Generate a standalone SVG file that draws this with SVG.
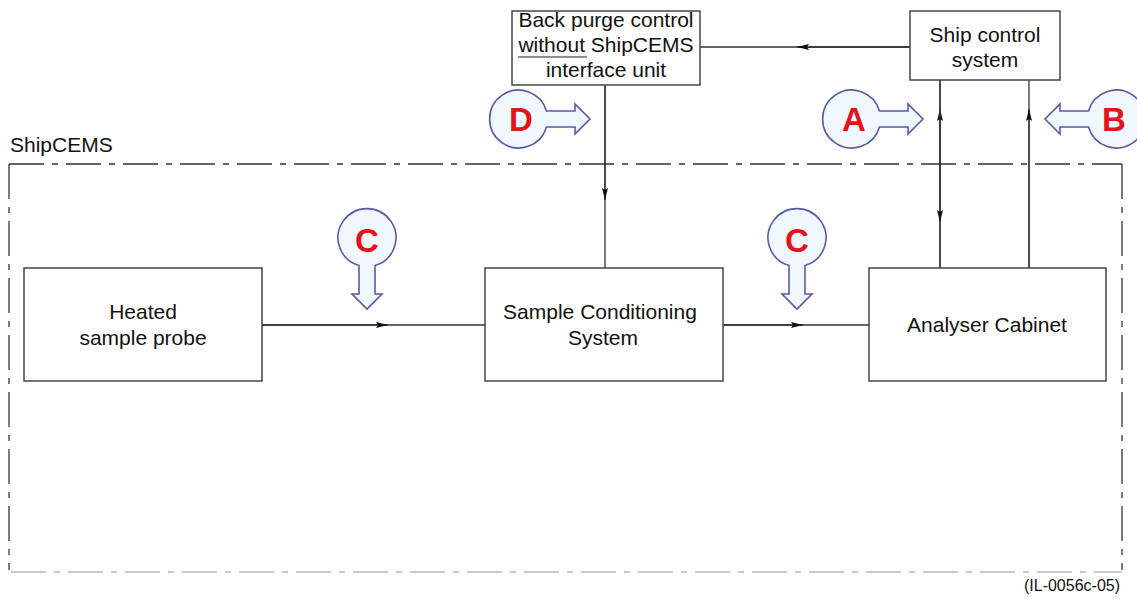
<svg xmlns="http://www.w3.org/2000/svg" xmlns:xlink="http://www.w3.org/1999/xlink" width="1137" height="599" viewBox="0 0 1137 599">
<style>
.box{fill:#fff;stroke:#444;stroke-width:1.5}
.t{font-family:"Liberation Sans",Arial,sans-serif;font-size:21px;fill:#111;text-anchor:middle}
.ln{stroke:#333;stroke-width:1.3;fill:none}
.dd{stroke:#333;stroke-width:1.3;fill:none;stroke-dasharray:35 8 6 8}
.co{fill:#f0f7fd;stroke:#5a5aa6;stroke-width:1.6}
.L{font-family:"Liberation Sans",Arial,sans-serif;font-size:33px;font-weight:bold;fill:#e3121b;text-anchor:middle}
</style>
<defs>
<path id="callout" d="M 25.5,-8 A 29 29 0 1 0 25.5,8 L 54,8 L 54,15 L 69,0 L 54,-15 L 54,-8 Z"/>
<marker id="ah" viewBox="0 0 12 6" refX="12" refY="3" markerWidth="12" markerHeight="6" markerUnits="userSpaceOnUse" orient="auto">
<path d="M0,0 L12,3 L0,6 L2,3 Z" fill="#111"/>
</marker>
</defs>

<g id="boundary">
<line class="dd" x1="9" y1="164" x2="1122" y2="164"/>
<line class="dd" x1="1122" y1="164" x2="1122" y2="570"/>
<line class="dd" x1="9" y1="164" x2="9" y2="570"/>
<line class="dd" x1="11" y1="572" x2="1122" y2="572" style="stroke:#bbb"/>
<text x="10" y="152" style="font-family:'Liberation Sans',Arial,sans-serif;font-size:21px;fill:#111">ShipCEMS</text>
</g>

<g id="connectors">
<line class="ln" x1="910" y1="47" x2="700" y2="47"/>
<line class="ln" x1="910" y1="47" x2="797" y2="47" marker-end="url(#ah)"/>
<line class="ln" x1="605" y1="85" x2="605" y2="268"/>
<line class="ln" x1="605" y1="85" x2="605" y2="200" marker-end="url(#ah)"/>
<line class="ln" x1="262" y1="325" x2="485" y2="325"/>
<line class="ln" x1="262" y1="325" x2="388" y2="325" marker-end="url(#ah)"/>
<line class="ln" x1="723" y1="325" x2="869" y2="325"/>
<line class="ln" x1="723" y1="325" x2="803" y2="325" marker-end="url(#ah)"/>
<line class="ln" x1="940" y1="80" x2="940" y2="268"/>
<line class="ln" x1="940" y1="268" x2="940" y2="109" marker-end="url(#ah)"/>
<line class="ln" x1="940" y1="80" x2="940" y2="222" marker-end="url(#ah)"/>
<line class="ln" x1="1029" y1="80" x2="1029" y2="268"/>
<line class="ln" x1="1029" y1="268" x2="1029" y2="109" marker-end="url(#ah)"/>
</g>

<g id="back-purge">
<rect class="box" x="512" y="11" width="188" height="74"/>
<text class="t" x="606" y="27">Back purge control</text>
<text class="t" x="606" y="52">without ShipCEMS</text>
<line x1="518" y1="57" x2="587" y2="57" stroke="#222" stroke-width="1.2"/>
<text class="t" x="606" y="77">interface unit</text>
</g>

<g id="ship-control">
<rect class="box" x="910" y="11" width="150" height="69"/>
<text class="t" x="985" y="42">Ship control</text>
<text class="t" x="985" y="67">system</text>
</g>

<g id="heated-probe">
<rect class="box" x="24" y="268" width="238" height="113"/>
<text class="t" x="143" y="319">Heated</text>
<text class="t" x="143" y="345">sample probe</text>
</g>

<g id="sample-conditioning">
<rect class="box" x="485" y="268" width="238" height="113"/>
<text class="t" x="600" y="319">Sample Conditioning</text>
<text class="t" x="603" y="345">System</text>
</g>

<g id="analyser">
<rect class="box" x="869" y="268" width="237" height="113"/>
<text class="t" x="987" y="332">Analyser Cabinet</text>
</g>

<g id="callout-D">
<use href="#callout" xlink:href="#callout" class="co" transform="translate(521,119)"/>
<text class="L" x="521" y="131">D</text>
</g>
<g id="callout-A">
<use href="#callout" xlink:href="#callout" class="co" transform="translate(854,119)"/>
<text class="L" x="854" y="131">A</text>
</g>
<g id="callout-B">
<use href="#callout" xlink:href="#callout" class="co" transform="translate(1114,119) rotate(180)"/>
<text class="L" x="1114" y="131">B</text>
</g>
<g id="callout-C1">
<use href="#callout" xlink:href="#callout" class="co" transform="translate(367,240) rotate(90)"/>
<text class="L" x="367" y="252">C</text>
</g>
<g id="callout-C2">
<use href="#callout" xlink:href="#callout" class="co" transform="translate(797,240) rotate(90)"/>
<text class="L" x="797" y="252">C</text>
</g>

<text x="1120" y="591" style="font-family:'Liberation Sans',Arial,sans-serif;font-size:16px;fill:#111;text-anchor:end">(IL-0056c-05)</text>
</svg>
